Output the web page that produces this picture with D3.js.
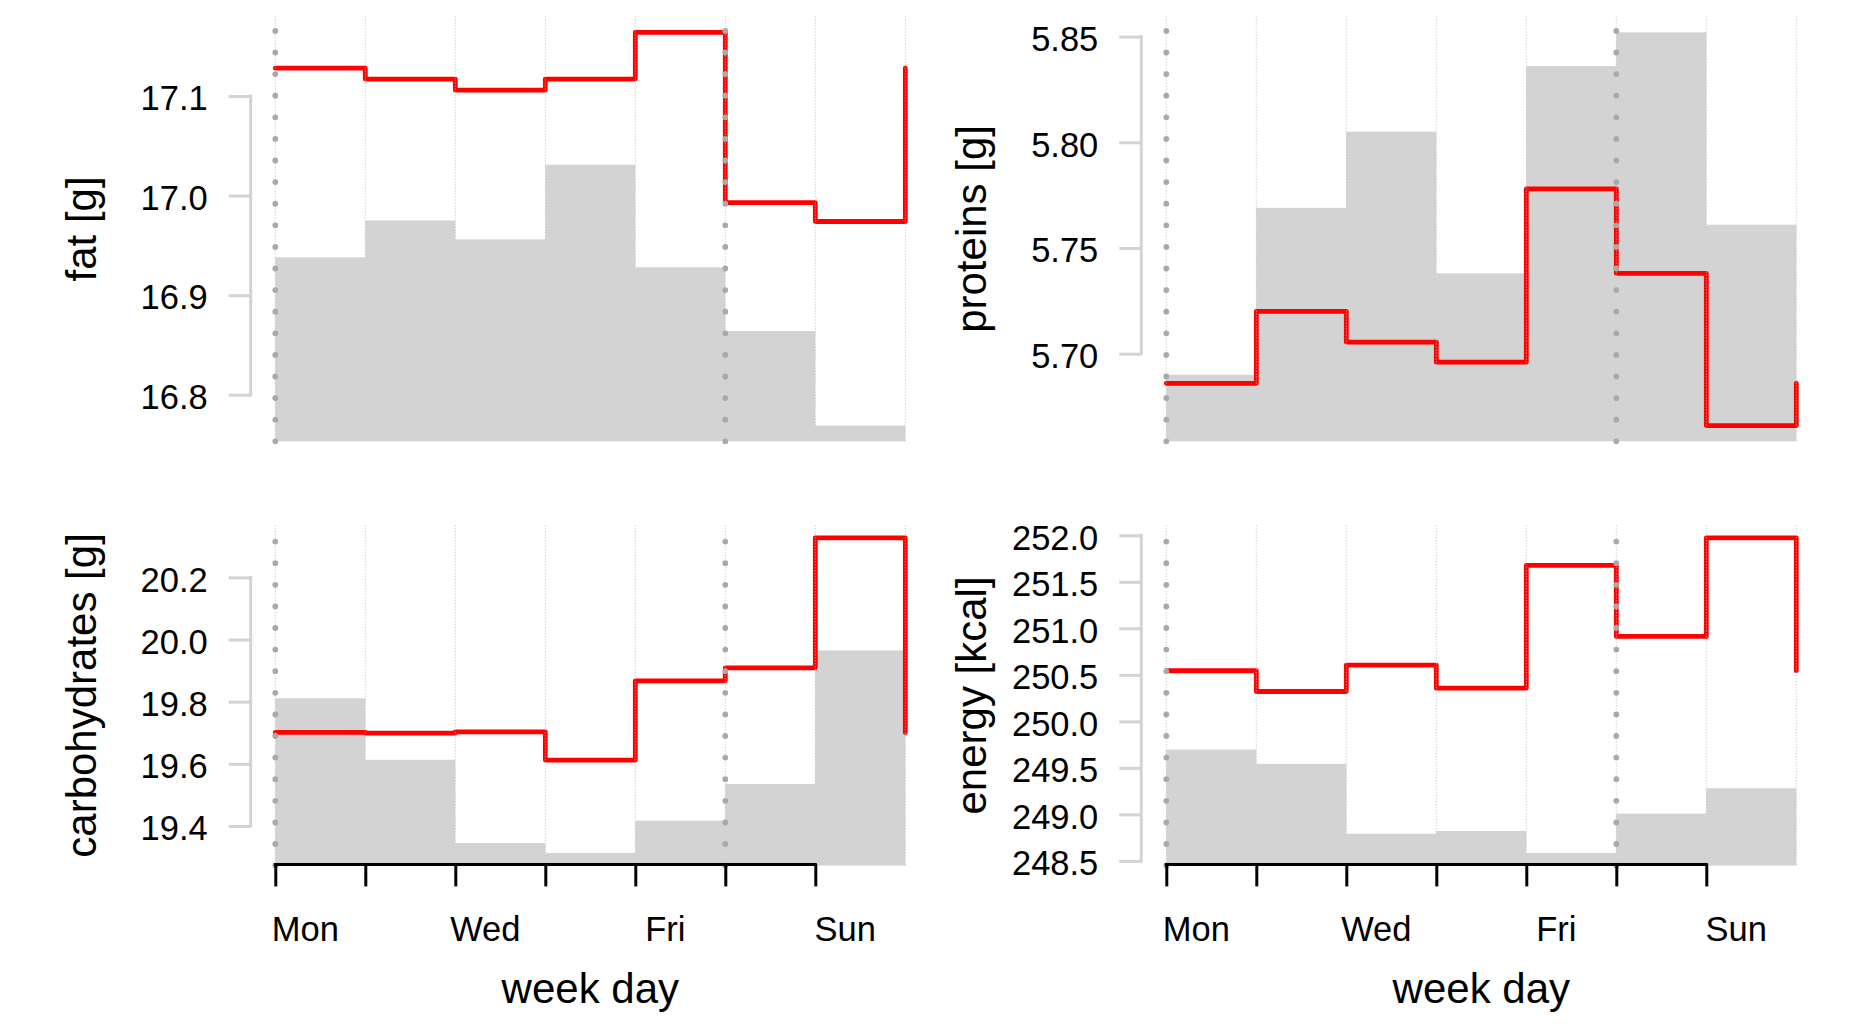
<!DOCTYPE html>
<html>
<head>
<meta charset="utf-8">
<script src="https://cdn.jsdelivr.net/npm/d3@7"></script>
<style>
  html, body { margin: 0; padding: 0; background: #fff; }
  svg { display: block; }
  text { font-family: "Liberation Sans", Arial, Helvetica, sans-serif; fill: #000; }
</style>
</head>
<body>
<svg id="chart" width="1851" height="1024"></svg>
<script>
// Week days and the labelled ones on the x axis
const days = ["Mon", "Tue", "Wed", "Thu", "Fri", "Sat", "Sun"];
const labelledDays = ["Mon", "Wed", "Fri", "Sun"];
const markedDays = ["Mon", "Sat"];

// Grey bars: daily values; red steps: second daily series
const fatBars = [16.938, 16.975, 16.956, 17.031, 16.928, 16.864, 16.769];
const fatLine = [17.128, 17.117, 17.106, 17.117, 17.164, 16.993, 16.974];

const proteinBars = [5.690, 5.769, 5.805, 5.738, 5.836, 5.852, 5.761];
const proteinLine = [5.686, 5.720, 5.7055, 5.696, 5.778, 5.738, 5.666];

const carbBars = [19.811, 19.613, 19.345, 19.313, 19.417, 19.535, 19.965];
const carbLine = [19.701, 19.699, 19.703, 19.612, 19.867, 19.909, 20.327];

const energyBars = [249.697, 249.543, 248.792, 248.821, 248.585, 249.008, 249.281];
const energyLine = [250.544, 250.321, 250.605, 250.357, 251.677, 250.913, 251.972];

// Y tick labels
const fatTicks = [16.8, 16.9, 17.0, 17.1];
const proteinTicks = [5.70, 5.75, 5.80, 5.85];
const carbTicks = [19.4, 19.6, 19.8, 20.0, 20.2];
const energyTicks = [248.5, 249.0, 249.5, 250.0, 250.5, 251.0, 251.5, 252.0];

const panels = [
  { title: "fat [g]",           bars: fatBars,     line: fatLine,     ticks: fatTicks,     fmt: ".1f", col: 0, row: 0 },
  { title: "proteins [g]",      bars: proteinBars, line: proteinLine, ticks: proteinTicks, fmt: ".2f", col: 1, row: 0 },
  { title: "carbohydrates [g]", bars: carbBars,    line: carbLine,    ticks: carbTicks,    fmt: ".1f", col: 0, row: 1 },
  { title: "energy [kcal]",     bars: energyBars,  line: energyLine,  ticks: energyTicks,  fmt: ".1f", col: 1, row: 1 }
];

// Layout
const cols = [
  { x0: 275.3,  axisX: 250.7,  titleX: 95.5 },
  { x0: 1166.3, axisX: 1141.3, titleX: 986 }
];
const rows = [
  { top: 16.6,  bottom: 441.3, xAxis: false },
  { top: 525.3, bottom: 865.6, xAxis: true }
];
const plotWidth = 630;
const tickFont = 34.5, titleFont = 42;

const svg = d3.select("#chart");

panels.forEach(p => {
  const c = cols[p.col], r = rows[p.row];
  const g = svg.append("g");

  const x = d3.scaleLinear().domain([0, days.length]).range([c.x0, c.x0 + plotWidth]);

  // y range: data extent padded by 4% on each side
  const all = p.bars.concat(p.line);
  const lo = d3.min(all), hi = d3.max(all), pad = (hi - lo) * 0.04;
  const y = d3.scaleLinear().domain([lo - pad, hi + pad]).range([r.bottom, r.top]);

  // bars, one per day, from the bottom of the plot
  g.append("g").selectAll("rect")
    .data(p.bars)
    .join("rect")
    .attr("x", (d, i) => x(i))
    .attr("width", (d, i) => x(i + 1) - x(i))
    .attr("y", d => y(d))
    .attr("height", d => r.bottom - y(d))
    .attr("fill", "#d3d3d3");

  // step line, wrapping back to Monday's value at the week's end
  const stepData = p.line.concat([p.line[0]]);
  const step = d3.line()
    .x((d, i) => x(i))
    .y(d => y(d))
    .curve(d3.curveStepAfter);
  g.append("path")
    .attr("d", step(stepData))
    .attr("fill", "none")
    .attr("stroke", "#ff0000")
    .attr("stroke-width", 4.8)
    .attr("stroke-linejoin", "round")
    .attr("stroke-linecap", "round");

  // thin dotted grid at each day boundary
  g.append("g").selectAll("line")
    .data(d3.range(days.length + 1))
    .join("line")
    .attr("x1", d => x(d)).attr("x2", d => x(d))
    .attr("y1", r.top).attr("y2", r.bottom)
    .attr("stroke", "#bdbdbd")
    .attr("stroke-width", 1)
    .attr("stroke-dasharray", "1 2");

  // thick dotted markers at week start and weekend start
  g.append("g").selectAll("path")
    .data(markedDays.map(d => days.indexOf(d)))
    .join("path")
    .attr("d", d => `M${x(d)},${r.bottom}V${r.top}`)
    .attr("stroke", "#a9a9a9")
    .attr("stroke-width", 5.8)
    .attr("stroke-linecap", "round")
    .attr("stroke-dasharray", "0 21.6");

  // y axis
  const fmt = d3.format(p.fmt);
  const ya = g.append("g")
    .attr("transform", `translate(${c.axisX},0)`)
    .call(d3.axisLeft(y).tickValues(p.ticks).tickSize(22).tickPadding(21).tickFormat(fmt));
  ya.select(".domain").remove();
  ya.append("line")
    .attr("x1", 0).attr("x2", 0)
    .attr("y1", y(p.ticks[0])).attr("y2", y(p.ticks[p.ticks.length - 1]))
    .attr("stroke", "#d3d3d3").attr("stroke-width", 3).attr("stroke-linecap", "square");
  ya.selectAll(".tick line").attr("stroke", "#d3d3d3").attr("stroke-width", 3);
  ya.selectAll(".tick text")
    .attr("font-size", tickFont)
    .attr("font-family", "Liberation Sans, Arial, sans-serif")
    .attr("fill", "#000")
    .attr("dy", "0.4em");

  // y title
  g.append("text")
    .attr("transform", `translate(${c.titleX},${(r.top + r.bottom) / 2}) rotate(-90)`)
    .attr("text-anchor", "middle")
    .attr("font-size", titleFont)
    .text(p.title);

  // x axis (bottom row only)
  if (r.xAxis) {
    const axisY = r.bottom - 1.2;
    const xa = g.append("g")
      .attr("transform", `translate(0,${axisY})`)
      .call(d3.axisBottom(x).tickValues(d3.range(days.length)).tickSize(22).tickFormat(""));
    xa.select(".domain").remove();
    xa.append("line")
      .attr("x1", x(0)).attr("x2", x(days.length - 1))
      .attr("y1", 0).attr("y2", 0)
      .attr("stroke", "#000").attr("stroke-width", 3).attr("stroke-linecap", "square");
    xa.selectAll(".tick line").attr("stroke", "#000").attr("stroke-width", 3);

    g.append("g").selectAll("text")
      .data(labelledDays)
      .join("text")
      .attr("x", d => x(days.indexOf(d) + 1 / 3))
      .attr("y", 941)
      .attr("text-anchor", "middle")
      .attr("font-size", tickFont)
      .text(d => d);

    g.append("text")
      .attr("x", (x(0) + x(days.length)) / 2)
      .attr("y", 1002.5)
      .attr("text-anchor", "middle")
      .attr("font-size", titleFont)
      .text("week day");
  }
});
</script>
</body>
</html>
